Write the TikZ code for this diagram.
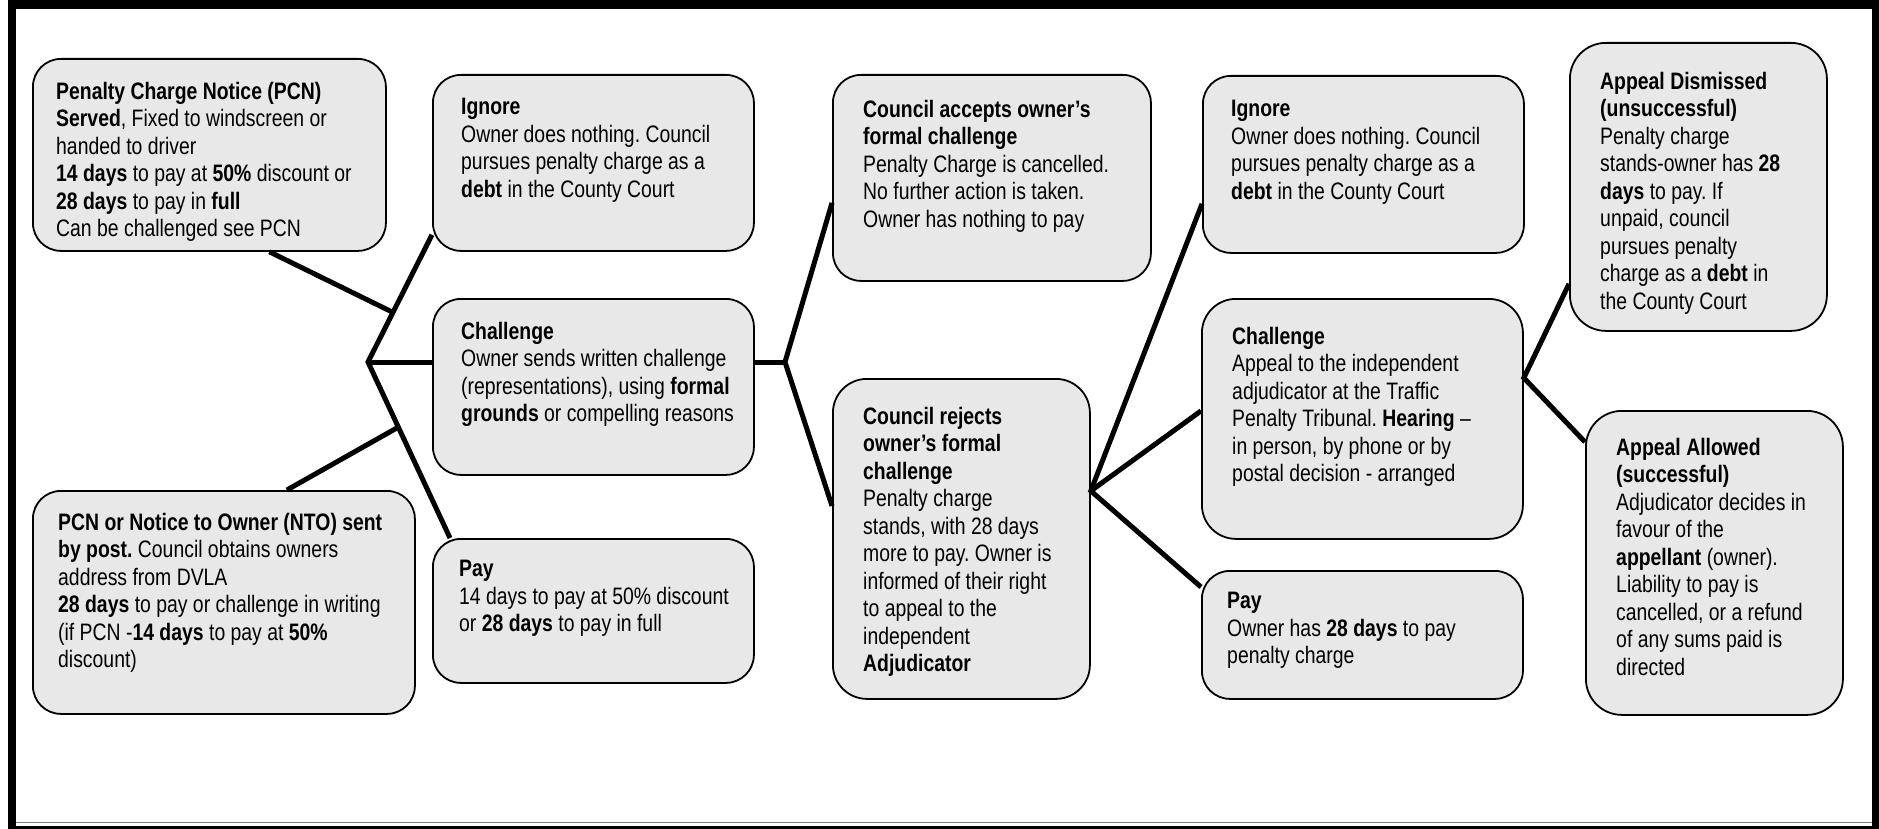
\documentclass[tikz,border=0pt]{standalone}
\usepackage{fontspec}
\setmainfont{Liberation Sans}[FakeStretch=0.815]
\usetikzlibrary{calc}
\definecolor{boxgray}{RGB}{232,232,232}
\frenchspacing

\begin{document}
\begin{tikzpicture}[x=1pt, y=-1pt]
    \tikzstyle{block} = [draw, rectangle, fill=boxgray, line width=1.8pt, rounded corners=28pt, anchor=north west, inner sep=0pt];
    \tikzstyle{txt} = [anchor=north west, inner sep=0pt, align=left, font=\fontsize{23.8}{27.5}\selectfont];
    \tikzstyle{line} = [draw, line width=5pt];
    \useasboundingbox (0,0) rectangle (1879,829);
    \draw[line width=8.5pt] (12,4.5) rectangle (1876.5,830.5);
    \draw[gray, line width=1pt] (16,822) -- (1872,822);

    \node[block, minimum width=353pt, minimum height=192pt, label={[txt, xshift=24pt, yshift=-24pt]north west:{\textbf{Penalty Charge Notice (PCN)}\\ \textbf{Served}, Fixed to windscreen or\\ handed to driver\\ \textbf{14 days} to pay at \textbf{50\%} discount or\\ \textbf{28 days} to pay in \textbf{full}\\ Can be challenged see PCN}}] (pcn) at (32,58) {};
    \node[block, minimum width=382pt, minimum height=223pt, label={[txt, xshift=26pt, yshift=-23pt]north west:{\textbf{PCN or Notice to Owner (NTO) sent}\\ \textbf{by post.} Council obtains owners\\ address from DVLA\\ \textbf{28 days} to pay or challenge in writing\\ (if PCN -\textbf{14 days} to pay at \textbf{50\%}\\ discount)}}] (nto) at (32,490) {};

    \node[block, minimum width=321pt, minimum height=176pt, label={[txt, xshift=29pt, yshift=-24pt]north west:{\textbf{Ignore}\\ Owner does nothing. Council\\ pursues penalty charge as a\\ \textbf{debt} in the County Court}}] (ign1) at (432,74) {};
    \node[block, minimum width=321pt, minimum height=176pt, label={[txt, xshift=29pt, yshift=-24pt]north west:{\textbf{Challenge}\\ Owner sends written challenge\\ (representations), using \textbf{formal}\\ \textbf{grounds} or compelling reasons}}] (chal1) at (432,298) {};
    \node[block, minimum width=321pt, minimum height=144pt, label={[txt, xshift=27pt, yshift=-22pt]north west:{\textbf{Pay}\\ 14 days to pay at 50\% discount\\ or \textbf{28 days} to pay in full}}] (pay1) at (432,538) {};

    \node[block, minimum width=318pt, minimum height=206pt, label={[txt, xshift=31pt, yshift=-26pt]north west:{\textbf{Council accepts owner’s}\\ \textbf{formal challenge}\\ Penalty Charge is cancelled.\\ No further action is taken.\\ Owner has nothing to pay}}] (acc) at (832,74) {};
    \node[block, rounded corners=34pt, minimum width=257pt, minimum height=320pt, label={[txt, xshift=31pt, yshift=-29pt]north west:{\textbf{Council rejects}\\ \textbf{owner’s formal}\\ \textbf{challenge}\\ Penalty charge\\ stands, with 28 days\\ more to pay. Owner is\\ informed of their right\\ to appeal to the\\ independent\\ \textbf{Adjudicator}}}] (rej) at (832,378) {};

    \node[block, minimum width=321pt, minimum height=177pt, label={[txt, xshift=29pt, yshift=-25pt]north west:{\textbf{Ignore}\\ Owner does nothing. Council\\ pursues penalty charge as a\\ \textbf{debt} in the County Court}}] (ign2) at (1202,75) {};
    \node[block, rounded corners=34pt, minimum width=321pt, minimum height=240pt, label={[txt, xshift=31pt, yshift=-29pt]north west:{\textbf{Challenge}\\ Appeal to the independent\\ adjudicator at the Traffic\\ Penalty Tribunal. \textbf{Hearing} --\\ in person, by phone or by\\ postal decision - arranged}}] (chal2) at (1201,298) {};
    \node[block, minimum width=321pt, minimum height=128pt, label={[txt, xshift=26pt, yshift=-22pt]north west:{\textbf{Pay}\\ Owner has \textbf{28 days} to pay\\ penalty charge}}] (pay2) at (1201,570) {};

    \node[block, rounded corners=36pt, minimum width=257pt, minimum height=288pt, label={[txt, xshift=31pt, yshift=-30pt]north west:{\textbf{Appeal Dismissed}\\ \textbf{(unsuccessful)}\\ Penalty charge\\ stands-owner has \textbf{28}\\ \textbf{days} to pay. If\\ unpaid, council\\ pursues penalty\\ charge as a \textbf{debt} in\\ the County Court}}] (dis) at (1569,42) {};
    \node[block, rounded corners=36pt, minimum width=257pt, minimum height=304pt, label={[txt, xshift=31pt, yshift=-28pt]north west:{\textbf{Appeal Allowed}\\ \textbf{(successful)}\\ Adjudicator decides in\\ favour of the\\ \textbf{appellant} (owner).\\ Liability to pay is\\ cancelled, or a refund\\ of any sums paid is\\ directed}}] (all) at (1585,410) {};

    \tikzstyle{every path}=[line]
    % first fork
    \coordinate (j1) at (368,362);
    \coordinate (i1) at ([yshift=17pt]ign1.south west);
    \coordinate (p1) at ([xshift=18pt]pay1.north west);
    \path (i1) -- (j1) -- (p1);
    \path (j1) -- (j1 -| chal1.west);
    \path ([xshift=60pt]pcn.south) -- ($(j1)!0.39!(i1)$);
    \path ([xshift=63pt]nto.north) -- ($(j1)!0.37!(p1)$);
    % council decision
    \coordinate (j2) at (785,362);
    \path (j2 -| chal1.east) -- (j2);
    \path ([yshift=-25pt]acc.west) -- (j2) -- ([yshift=33pt]rej.west);
    % after rejection
    \coordinate (j3) at ([yshift=48pt]rej.east);
    \path ([yshift=50pt]ign2.south west) -- (j3) -- ([yshift=-17pt]pay2.north west);
    \path (j3) -- ([yshift=8pt]chal2.west);
    % appeal outcome
    \coordinate (j4) at ([yshift=41pt]chal2.east);
    \path ([yshift=48pt]dis.south west) -- (j4) -- ([yshift=-32pt]all.north west);
\end{tikzpicture}
\end{document}
